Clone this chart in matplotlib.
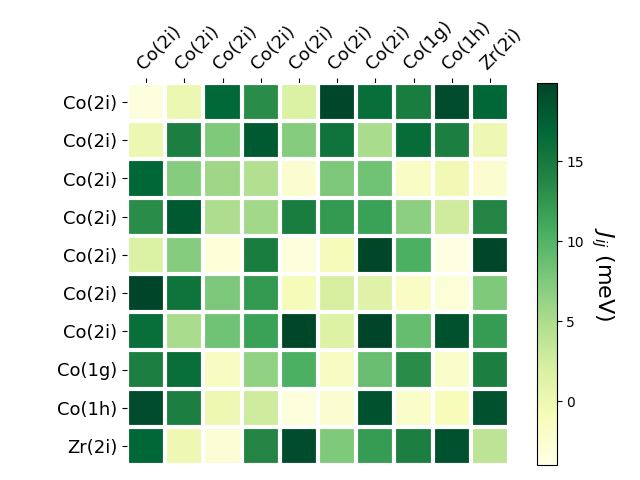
import numpy as np
import matplotlib
matplotlib.use("Agg")
import matplotlib.pyplot as plt

labels = ["Co(2i)"] * 7 + ["Co(1g)", "Co(1h)", "Zr(2i)"]

J = np.array([
    [-3.5, 0.1, 16.8, 13.2, 1.7, 19.7, 16.1, 14.6, 19.2, 17.0],
    [0.1, 14.4, 7.5, 18.0, 7.2, 15.6, 5.1, 16.3, 14.4, -0.2],
    [17.0, 7.2, 5.8, 4.6, -2.6, 7.7, 8.4, -1.8, -0.4, -2.6],
    [13.2, 18.0, 4.8, 5.6, 14.6, 12.3, 11.5, 6.8, 2.7, 13.9],
    [1.7, 7.2, -3.0, 14.6, -3.3, -0.9, 19.7, 10.3, -3.8, 19.7],
    [19.9, 15.6, 7.7, 12.3, -0.9, 2.0, 1.3, -1.8, -3.0, 7.5],
    [16.1, 5.1, 8.4, 11.5, 19.7, 1.5, 19.9, 8.9, 18.7, 12.0],
    [14.4, 16.1, -1.6, 6.5, 10.3, -1.6, 8.7, 13.2, -2.1, 14.4],
    [19.2, 14.4, -0.2, 2.7, -3.3, -2.6, 18.7, -2.1, -1.1, 18.7],
    [17.0, -0.2, -2.8, 13.9, 19.2, 7.5, 12.0, 14.4, 18.7, 3.9],
])

fig = plt.figure(figsize=(6.4, 4.8), dpi=100)
ax = fig.add_axes([127 / 640, 15 / 480, 382 / 640, 382 / 480])
cax = fig.add_axes([537 / 640, 15 / 480, 19.5 / 640, 382 / 480])

im = ax.imshow(J, cmap="YlGn", vmin=-4, vmax=19.9)

ax.set_xticks(np.arange(len(labels)))
ax.set_yticks(np.arange(len(labels)))
ax.set_xticklabels(labels, fontsize=13)
ax.set_yticklabels(labels, fontsize=13)
ax.tick_params(top=True, bottom=False, labeltop=True, labelbottom=False)
plt.setp(ax.get_xticklabels(), rotation=45, ha="left", rotation_mode="anchor")

ax.spines[:].set_visible(False)
ax.set_xticks(np.arange(len(labels) + 1) - .5, minor=True)
ax.set_yticks(np.arange(len(labels) + 1) - .5, minor=True)
ax.grid(which="minor", color="w", linestyle="-", linewidth=3)
ax.tick_params(which="minor", top=False, bottom=False, left=False)

cbar = fig.colorbar(im, cax=cax)
cbar.set_ticks([0, 5, 10, 15])
cbar.set_label("$J_{ij}$ (meV)", rotation=-90, va="bottom", fontsize=16)

fig.savefig("out.png")
